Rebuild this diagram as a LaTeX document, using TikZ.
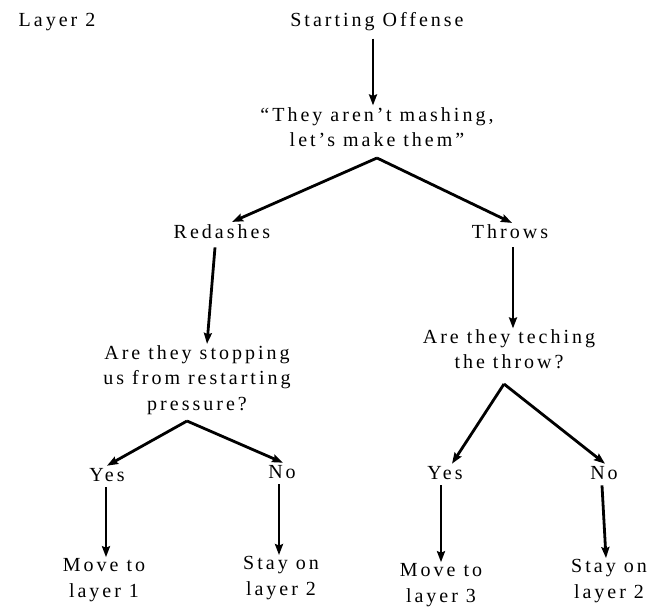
\documentclass[tikz,border=0pt]{standalone}
\usepackage{fontspec}
\setmainfont[LetterSpace=15]{Liberation Serif}
\usetikzlibrary{arrows.meta,calc}

\tikzset{
  lbl/.style={inner sep=0pt, anchor=base, align=center,
    font=\fontsize{20}{25.5}\selectfont},
  arr/.style={line width=2.8pt, -{Stealth[length=11pt,width=8pt,inset=1.5pt]}},
}

\begin{document}
\begin{tikzpicture}[x=1pt,y=-1pt]
  \useasboundingbox (0,0) rectangle (648,609);

  % labels (positions given at the last baseline of each label)
  \node[lbl] (layer)  at (57,27)  {Layer 2};
  \node[lbl] (start)  at (377,27) {Starting Offense};
  \node[lbl] (quote)  at (377,147) {“They aren’t mashing,\\let’s make them”};
  \node[lbl] (redash) at (222,239) {Redashes};
  \node[lbl] (throws) at (510,239) {Throws};
  \node[lbl] (stop)   at (197,410) {Are they stopping\\us from restarting\\pressure?};
  \node[lbl] (tech)   at (509,369) {Are they teching\\the throw?};
  \node[lbl] (yesA)   at (107,481) {Yes};
  \node[lbl] (noA)    at (282,478) {No};
  \node[lbl] (yesB)   at (445,479) {Yes};
  \node[lbl] (noB)    at (604,479) {No};
  \node[lbl] (moveA)  at (104,597) {Move to\\layer 1};
  \node[lbl] (stayA)  at (281,595) {Stay on\\layer 2};
  \node[lbl] (moveB)  at (441,602) {Move to\\layer 3};
  \node[lbl] (stayB)  at (609,598) {Stay on\\layer 2};

  % branching points
  \coordinate (forkQ) at (377,158);
  \coordinate (forkS) at (187,421);
  \coordinate (forkT) at (504,384);

  % connectors
  \draw[arr] ($(start.south)+(-4,7)$) -- ($(quote.north)+(-4,-2)$);
  \draw[arr] (forkQ) -- ($(redash.north)+(10,-3)$);
  \draw[arr] (forkQ) -- ($(throws.north)+(2,-2)$);
  \draw[arr] ($(redash.south)+(-7,8)$) -- ($(stop.north)+(10,-1)$);
  \draw[arr] ($(throws.south)+(3,8)$) -- ($(tech.north)+(4,-1)$);
  \draw[arr] (forkS) -- ($(yesA.north)+(0,-2)$);
  \draw[arr] (forkS) -- ($(noA.north)+(1,-2)$);
  \draw[arr] (forkT) -- ($(yesB.north)+(7,-2)$);
  \draw[arr] (forkT) -- ($(noB.north)+(1,-2)$);
  \draw[arr] ($(yesA.south)+(-1,6)$) -- ($(moveA.north)+(2,-1)$);
  \draw[arr] ($(noA.south)+(-3,6)$) -- ($(stayA.north)+(-2,-1)$);
  \draw[arr] ($(yesB.south)+(-4,6)$) -- ($(moveB.north)+(0,-1)$);
  \draw[arr] ($(noB.south)+(-2,6)$) -- ($(stayB.north)+(-3,-1)$);
\end{tikzpicture}
\end{document}
